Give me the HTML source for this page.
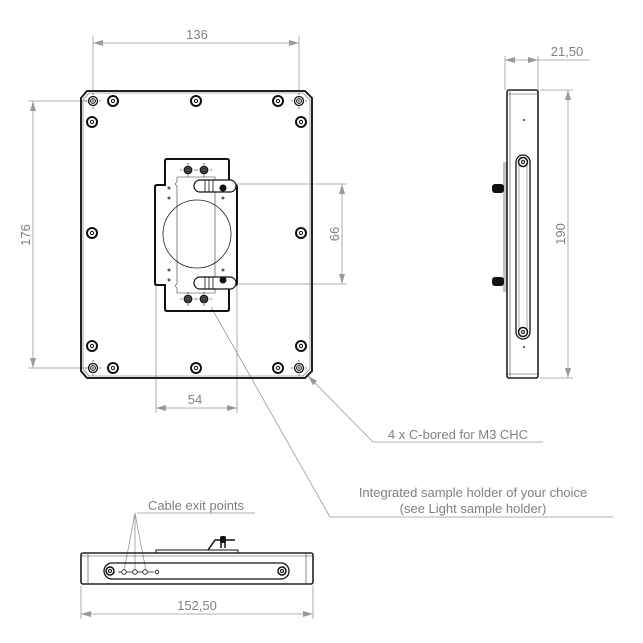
<!DOCTYPE html>
<html><head><style>
body{margin:0;background:#fff}
svg{display:block}
text{font-family:"Liberation Sans",sans-serif;fill:#808080}
</style></head><body>
<svg width="643" height="643" viewBox="0 0 643 643" xmlns="http://www.w3.org/2000/svg">
<defs>
<marker id="ar" viewBox="0 0 10 6" refX="10" refY="3" markerWidth="10" markerHeight="6" orient="auto-start-reverse" markerUnits="userSpaceOnUse"><path d="M0,0 L10,3 L0,6 z" fill="#999"/></marker>
<g id="hole"><circle r="5" fill="none" stroke="#111" stroke-width="2"/><circle r="1.6" fill="none" stroke="#111" stroke-width="1"/></g>
<g id="cb"><circle r="4.5" fill="none" stroke="#111" stroke-width="1.3"/><circle r="2.5" fill="none" stroke="#111" stroke-width="0.8"/><path d="M-3,0H3M0,-3V3" stroke="#111" stroke-width="0.6"/><path d="M-8,0H-6M6,0H8M0,-8V-6M0,6V8" stroke="#111" stroke-width="0.6"/></g>
<g id="sh"><circle r="3.8" fill="#555" stroke="#111" stroke-width="1.2"/><circle r="2" fill="none" stroke="#111" stroke-width="0.6"/><path d="M-8,0H-6M6,0H8M0,-7V-5M0,5V7" stroke="#111" stroke-width="0.6"/></g>
</defs>
<g stroke="#999" stroke-width="0.8" fill="none">
<!-- 136 -->
<path d="M93,92V36M299,92V36"/>
<line x1="93" y1="43" x2="299" y2="43" marker-start="url(#ar)" marker-end="url(#ar)"/>
<!-- 176 -->
<path d="M90,101H28M90,368H28"/>
<line x1="33" y1="101" x2="33" y2="368" marker-start="url(#ar)" marker-end="url(#ar)"/>
<!-- 66 -->
<path d="M236,184H347M236,284H347"/>
<line x1="342" y1="184" x2="342" y2="284" marker-start="url(#ar)" marker-end="url(#ar)"/>
<!-- 54 -->
<path d="M156,285V413M237,285V413"/>
<line x1="156" y1="408" x2="237" y2="408" marker-start="url(#ar)" marker-end="url(#ar)"/>
<!-- 21,50 -->
<path d="M505,90V56M538,90V56M538,60H590"/>
<line x1="505" y1="60" x2="538" y2="60" marker-start="url(#ar)" marker-end="url(#ar)"/>
<!-- 190 -->
<path d="M540,90H573M540,378H573"/>
<line x1="568" y1="90" x2="568" y2="378" marker-start="url(#ar)" marker-end="url(#ar)"/>
<!-- 152,50 -->
<path d="M81,586V619M313,586V619"/>
<line x1="81" y1="614" x2="313" y2="614" marker-start="url(#ar)" marker-end="url(#ar)"/>
<!-- leaders -->
<path d="M373,442H543"/>
<line x1="373" y1="442" x2="308" y2="376" marker-end="url(#ar)"/>
<path d="M330,517H613M330,517L211,307"/>
<path d="M137,513H255M135,513L124,571M135,513L135,571M135,513L146,571"/>
</g>
<g font-size="13">
<text x="197" y="39" text-anchor="middle">136</text>
<text x="195" y="404" text-anchor="middle">54</text>
<text x="567" y="56" text-anchor="middle">21,50</text>
<text x="197" y="610" text-anchor="middle">152,50</text>
<text transform="translate(30,235) rotate(-90)" text-anchor="middle">176</text>
<text transform="translate(339,234) rotate(-90)" text-anchor="middle">66</text>
<text transform="translate(565,234) rotate(-90)" text-anchor="middle">190</text>
<text x="458" y="439" text-anchor="middle">4 x C-bored for M3 CHC</text>
<text x="473" y="497" text-anchor="middle">Integrated sample holder of your choice</text>
<text x="473" y="513" text-anchor="middle">(see Light sample holder)</text>
<text x="196" y="510" text-anchor="middle">Cable exit points</text>
</g>
<!-- front plate -->
<path d="M87,91H305L312,98V371L305,378H87L81,371V98Z" fill="none" stroke="#222" stroke-width="2"/>
<path d="M89,93H303L310,100V369L303,376H89L83,369V100Z" fill="none" stroke="#666" stroke-width="0.6"/>
<use href="#cb" x="93" y="101"/><use href="#hole" x="113" y="101"/><use href="#hole" x="196" y="101"/><use href="#hole" x="278" y="101"/><use href="#cb" x="299" y="101"/>
<use href="#hole" x="92" y="122"/><use href="#hole" x="301" y="122"/>
<use href="#hole" x="92" y="233"/><use href="#hole" x="301" y="233"/>
<use href="#hole" x="92" y="346"/><use href="#hole" x="301" y="346"/>
<use href="#cb" x="93" y="368"/><use href="#hole" x="113" y="368"/><use href="#hole" x="196" y="368"/><use href="#hole" x="278" y="368"/><use href="#cb" x="299" y="368"/>
<!-- holder -->
<path d="M167,159H227Q229,159 229,161V185H235Q237,185 237,187V283Q237,285 235,285H229V309Q229,311 227,311H167Q165,311 165,309V285H157Q155,285 155,283V187Q155,185 157,185H165V161Q165,159 167,159Z" fill="none" stroke="#111" stroke-width="2"/>
<path d="M177,177H215V182H215M177,177L177,182M177,288V293H215V288M177,182Q174,184 177,186V284Q174,286 177,288M215,182Q218,184 215,186V284Q218,286 215,288" fill="none" stroke="#333" stroke-width="0.6"/>
<circle cx="197" cy="234" r="34" fill="none" stroke="#222" stroke-width="0.8"/>
<use href="#sh" x="188" y="170"/><use href="#sh" x="204" y="170"/><use href="#sh" x="188" y="299"/><use href="#sh" x="204" y="299"/>
<g fill="none" stroke="#111" stroke-width="0.8"><circle cx="169" cy="188" r="1"/><circle cx="169" cy="198" r="1"/><circle cx="223" cy="198" r="1"/><circle cx="169" cy="270" r="1"/><circle cx="169" cy="280" r="1"/><circle cx="223" cy="270" r="1"/></g>
<g stroke="#111" stroke-width="1.2" fill="#fff">
<path d="M200,180H230A5,5 0 0 1 230,192H200A6,6 0 0 1 200,180Z"/>
<path d="M200,277H230A5,5 0 0 1 230,289H200A6,6 0 0 1 200,277Z"/>
</g>
<g stroke="#111" stroke-width="0.8"><path d="M205,180V192M209,180V192M213,180V192M205,277V289M209,277V289M213,277V289"/></g>
<circle cx="223" cy="188" r="3.5" fill="#111"/><circle cx="223" cy="280" r="3.5" fill="#111"/>
<!-- side view -->
<rect x="507" y="90" width="31" height="288" rx="2" fill="none" stroke="#222" stroke-width="1.6"/>
<path d="M510,91V377M507,94H538M507,374H538" stroke="#444" stroke-width="0.6" fill="none"/>
<rect x="516" y="155" width="14" height="184" rx="7" fill="none" stroke="#111" stroke-width="1.3"/>
<path d="M519,165V330M527,165V330" stroke="#555" stroke-width="0.5"/>
<circle cx="523" cy="162" r="4.5" fill="none" stroke="#111" stroke-width="1.5"/><circle cx="523" cy="162" r="1.5" fill="none" stroke="#111"/>
<circle cx="523" cy="332" r="4.5" fill="none" stroke="#111" stroke-width="1.5"/><circle cx="523" cy="332" r="1.5" fill="none" stroke="#111"/>
<circle cx="524" cy="120" r="1" fill="#333"/><circle cx="524" cy="347" r="1" fill="#333"/>
<path d="M504,162V292M506,162V292" stroke="#555" stroke-width="0.7"/>
<rect x="492" y="184" width="12" height="9" rx="3" fill="#111"/><rect x="492" y="277" width="12" height="9" rx="3" fill="#111"/>
<!-- bottom view -->
<rect x="81" y="553" width="232" height="31" rx="2" fill="none" stroke="#222" stroke-width="1.6"/>
<path d="M88,553V584M306,553V584M81,556H313" stroke="#444" stroke-width="0.6"/>
<rect x="104" y="563" width="185" height="16" rx="8" fill="none" stroke="#111" stroke-width="1.3"/>
<circle cx="110" cy="571" r="4" fill="none" stroke="#111" stroke-width="1.5"/><circle cx="110" cy="571" r="1.5" fill="none" stroke="#111"/>
<circle cx="282" cy="571" r="4" fill="none" stroke="#111" stroke-width="1.5"/><circle cx="282" cy="571" r="1.5" fill="none" stroke="#111"/>
<path d="M118,572H154" stroke="#111" stroke-width="0.7"/>
<g fill="#fff" stroke="#111" stroke-width="0.8"><circle cx="124" cy="572" r="2.3"/><circle cx="135" cy="572" r="2.3"/><circle cx="145" cy="572" r="2.3"/><circle cx="157" cy="572" r="1.8"/></g>
<path d="M156,553V550H238V553" fill="none" stroke="#111" stroke-width="1"/>
<path d="M208,550L215,540H235M221,548V538H225V548" fill="none" stroke="#111" stroke-width="1.5"/>
<rect x="220" y="536" width="6" height="7" rx="2" fill="#111"/>
</svg>
</body></html>
